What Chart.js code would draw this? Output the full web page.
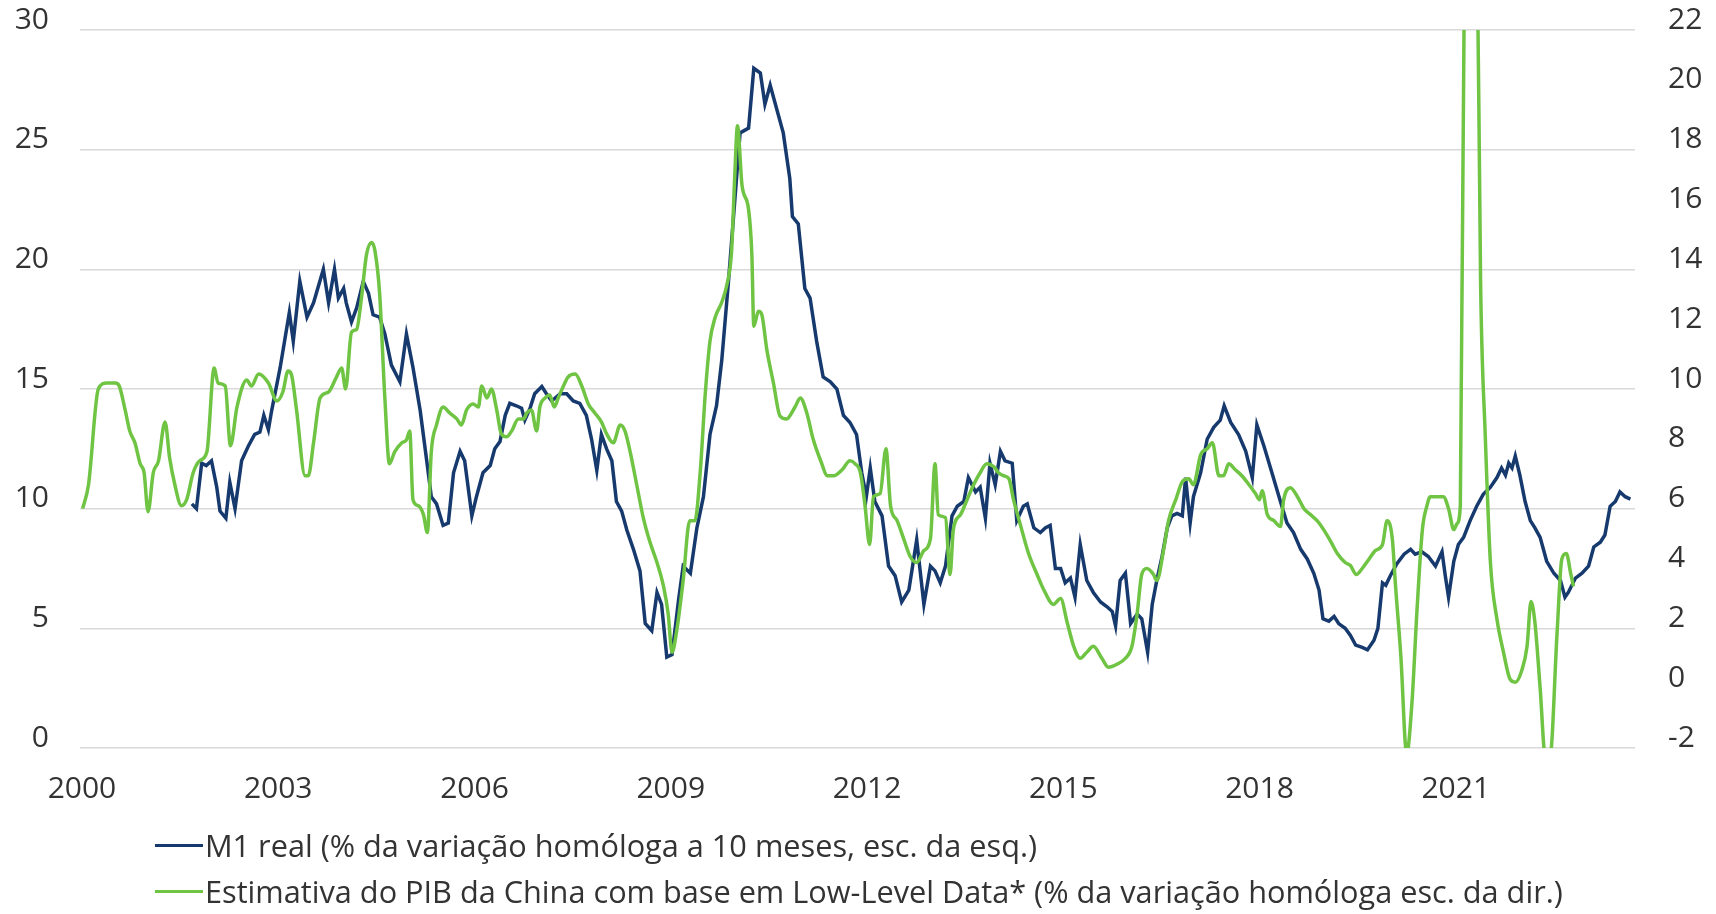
<!DOCTYPE html>
<html>
<head>
<meta charset="utf-8">
<script src="https://cdn.jsdelivr.net/npm/chart.js@4.4.1/dist/chart.umd.min.js"></script>
<style>
  body { margin: 0; background: #fff; }
  #wrap { position: relative; width: 1716px; height: 914px; }
  #legend {
    position: absolute; left: 155px; top: 822px;
    font-family: 'Open Sans', sans-serif; font-size: 30.7px; color: #333;
  }
  .row { display: flex; align-items: center; height: 46px; white-space: nowrap; }
  .swatch { width: 48px; height: 3px; margin-right: 2px; }
</style>
</head>
<body>
<div id="wrap">
  <canvas id="chart"></canvas>
  <div id="legend"></div>
</div>
<script>
// x labels every 3 years
const xTickYears = [2000, 2003, 2006, 2009, 2012, 2015, 2018, 2021];

// M1 real, left scale (decimal year / % yoy)
const m1Years = [
  2001.68, 2001.75, 2001.83, 2001.90, 2001.98, 2002.06, 2002.11, 2002.20, 2002.26, 2002.34,
  2002.44, 2002.54, 2002.64, 2002.72, 2002.78, 2002.85, 2002.90, 2003.03, 2003.17, 2003.23,
  2003.33, 2003.44, 2003.54, 2003.69, 2003.77, 2003.86, 2003.92, 2004.00, 2004.04, 2004.12,
  2004.20, 2004.30, 2004.38, 2004.45, 2004.55, 2004.63, 2004.73, 2004.86, 2004.96, 2005.06,
  2005.17, 2005.27, 2005.34, 2005.42, 2005.52, 2005.60, 2005.68, 2005.78, 2005.85, 2005.96,
  2006.03, 2006.13, 2006.24, 2006.31, 2006.39, 2006.47, 2006.54, 2006.64, 2006.72, 2006.77,
  2006.85, 2006.92, 2007.03, 2007.10, 2007.18, 2007.31, 2007.41, 2007.51, 2007.61, 2007.71,
  2007.79, 2007.87, 2007.94, 2008.02, 2008.10, 2008.17, 2008.25, 2008.33, 2008.43, 2008.53,
  2008.61, 2008.71, 2008.79, 2008.86, 2008.94, 2009.02, 2009.12, 2009.19, 2009.30, 2009.40,
  2009.50, 2009.60, 2009.70, 2009.78, 2009.88, 2009.96, 2010.06, 2010.19, 2010.27, 2010.37,
  2010.44, 2010.52, 2010.62, 2010.72, 2010.82, 2010.86, 2010.95, 2011.05, 2011.13, 2011.23,
  2011.33, 2011.44, 2011.54, 2011.64, 2011.74, 2011.84, 2011.92, 2011.99, 2012.05, 2012.12,
  2012.23, 2012.33, 2012.43, 2012.53, 2012.64, 2012.76, 2012.87, 2012.97, 2013.04, 2013.12,
  2013.20, 2013.30, 2013.38, 2013.48, 2013.55, 2013.66, 2013.73, 2013.81, 2013.88, 2013.96,
  2014.04, 2014.11, 2014.22, 2014.29, 2014.39, 2014.45, 2014.55, 2014.65, 2014.73, 2014.80,
  2014.88, 2014.96, 2015.03, 2015.11, 2015.18, 2015.26, 2015.36, 2015.46, 2015.57, 2015.67,
  2015.75, 2015.80, 2015.87, 2015.95, 2016.03, 2016.13, 2016.20, 2016.29, 2016.36, 2016.43,
  2016.51, 2016.59, 2016.66, 2016.74, 2016.82, 2016.87, 2016.94, 2016.99, 2017.10, 2017.20,
  2017.30, 2017.40, 2017.46, 2017.56, 2017.68, 2017.79, 2017.89, 2017.96, 2018.07, 2018.19,
  2018.32, 2018.42, 2018.52, 2018.63, 2018.73, 2018.83, 2018.91, 2018.97, 2019.06, 2019.14,
  2019.21, 2019.31, 2019.39, 2019.47, 2019.57, 2019.65, 2019.75, 2019.81, 2019.88, 2019.93,
  2020.00, 2020.10, 2020.21, 2020.31, 2020.38, 2020.48, 2020.58, 2020.69, 2020.79, 2020.84,
  2020.89, 2020.97, 2021.04, 2021.12, 2021.22, 2021.32, 2021.42, 2021.53, 2021.63, 2021.70,
  2021.76, 2021.81, 2021.86, 2021.91, 2021.98, 2022.06, 2022.14, 2022.21, 2022.29, 2022.39,
  2022.50, 2022.60, 2022.67, 2022.72, 2022.83, 2022.93, 2023.03, 2023.11, 2023.21, 2023.28,
  2023.36, 2023.44, 2023.51, 2023.59, 2023.67
];
const m1Values = [
  10.2, 10.0, 11.9, 11.8, 12.0, 10.9, 9.9, 9.6, 11.1, 10.0,
  12.0, 12.6, 13.1, 13.2, 13.9, 13.3, 14.1, 15.9, 18.2, 17.0,
  19.5, 18.0, 18.6, 20.0, 18.6, 20.0, 18.8, 19.2, 18.6, 17.8,
  18.4, 19.5, 19.0, 18.1, 18.0, 17.3, 16.0, 15.3, 17.3, 15.9,
  14.1, 12.0, 10.5, 10.2, 9.3, 9.4, 11.5, 12.4, 12.0, 9.7,
  10.5, 11.5, 11.8, 12.5, 12.8, 13.9, 14.4, 14.3, 14.2, 13.7,
  14.2, 14.8, 15.1, 14.8, 14.5, 14.8, 14.8, 14.5, 14.4, 13.9,
  12.9, 11.6, 13.1, 12.5, 12.0, 10.3, 9.9, 9.1, 8.3, 7.4,
  5.2, 4.9, 6.5, 6.0, 3.8, 3.9, 6.2, 7.6, 7.3, 9.2,
  10.5, 13.1, 14.3, 16.2, 19.4, 22.2, 25.7, 25.9, 28.4, 28.2,
  26.9, 27.7, 26.7, 25.7, 23.8, 22.2, 21.9, 19.2, 18.8, 17.0,
  15.5, 15.3, 15.0, 13.9, 13.6, 13.1, 11.5, 10.5, 11.7, 10.3,
  9.7, 7.6, 7.2, 6.1, 6.6, 8.7, 6.0, 7.6, 7.4, 6.9,
  7.6, 9.7, 10.1, 10.3, 11.3, 10.7, 10.9, 9.6, 11.9, 11.0,
  12.4, 12.0, 11.9, 9.5, 10.1, 10.2, 9.2, 9.0, 9.2, 9.3,
  7.5, 7.5, 6.9, 7.1, 6.3, 8.5, 7.0, 6.5, 6.1, 5.9,
  5.7, 5.1, 7.0, 7.3, 5.2, 5.6, 5.4, 4.0, 6.0, 7.0,
  8.0, 9.2, 9.7, 9.8, 9.7, 11.3, 9.4, 10.5, 11.5, 12.9,
  13.4, 13.7, 14.3, 13.6, 13.1, 12.4, 11.3, 13.5, 12.6, 11.5,
  10.3, 9.4, 9.0, 8.3, 7.9, 7.3, 6.6, 5.4, 5.3, 5.5,
  5.2, 5.0, 4.7, 4.3, 4.2, 4.1, 4.5, 5.0, 6.9, 6.8,
  7.2, 7.7, 8.1, 8.3, 8.1, 8.2, 8.0, 7.6, 8.2, 7.2,
  6.3, 7.8, 8.5, 8.8, 9.5, 10.1, 10.6, 10.9, 11.3, 11.7,
  11.4, 11.9, 11.7, 12.2, 11.4, 10.3, 9.5, 9.2, 8.8, 7.8,
  7.3, 7.0, 6.3, 6.5, 7.1, 7.3, 7.6, 8.4, 8.6, 8.9,
  10.1, 10.3, 10.7, 10.5, 10.4
];

// GDP estimate from low-level data, right scale (decimal year / % yoy)
const gdpYears = [
  2000.01, 2000.10, 2000.25, 2000.38, 2000.51, 2000.57, 2000.66, 2000.73, 2000.81, 2000.89,
  2000.95, 2001.01, 2001.09, 2001.17, 2001.27, 2001.34, 2001.42, 2001.52, 2001.60, 2001.70,
  2001.80, 2001.91, 2002.02, 2002.08, 2002.19, 2002.27, 2002.37, 2002.52, 2002.59, 2002.70,
  2002.85, 2002.98, 2003.07, 2003.15, 2003.20, 2003.28, 2003.41, 2003.46, 2003.54, 2003.64,
  2003.77, 2003.89, 2003.97, 2004.03, 2004.12, 2004.20, 2004.27, 2004.35, 2004.43, 2004.48,
  2004.55, 2004.63, 2004.70, 2004.78, 2004.89, 2004.96, 2005.01, 2005.06, 2005.14, 2005.22,
  2005.28, 2005.34, 2005.42, 2005.52, 2005.62, 2005.73, 2005.80, 2005.88, 2005.98, 2006.06,
  2006.11, 2006.19, 2006.26, 2006.34, 2006.41, 2006.49, 2006.57, 2006.67, 2006.75, 2006.80,
  2006.87, 2006.95, 2007.00, 2007.08, 2007.15, 2007.22, 2007.28, 2007.36, 2007.43, 2007.54,
  2007.64, 2007.74, 2007.84, 2007.94, 2008.02, 2008.12, 2008.23, 2008.30, 2008.38, 2008.48,
  2008.58, 2008.68, 2008.79, 2008.89, 2008.96, 2009.02, 2009.09, 2009.19, 2009.29, 2009.37,
  2009.45, 2009.53, 2009.60, 2009.68, 2009.78, 2009.86, 2009.93, 2009.98, 2010.02, 2010.09,
  2010.19, 2010.24, 2010.27, 2010.34, 2010.39, 2010.47, 2010.57, 2010.67, 2010.77, 2010.90,
  2010.98, 2011.08, 2011.18, 2011.31, 2011.39, 2011.49, 2011.62, 2011.74, 2011.82, 2011.90,
  2011.97, 2012.04, 2012.10, 2012.20, 2012.29, 2012.36, 2012.46, 2012.56, 2012.66, 2012.76,
  2012.87, 2012.97, 2013.04, 2013.09, 2013.20, 2013.27, 2013.32, 2013.43, 2013.53, 2013.63,
  2013.73, 2013.83, 2013.94, 2014.01, 2014.09, 2014.17, 2014.24, 2014.34, 2014.47, 2014.60,
  2014.70, 2014.85, 2014.96, 2015.06, 2015.16, 2015.26, 2015.36, 2015.46, 2015.59, 2015.69,
  2015.82, 2015.95, 2016.05, 2016.13, 2016.20, 2016.28, 2016.38, 2016.43, 2016.54, 2016.61,
  2016.72, 2016.82, 2016.92, 2016.99, 2017.10, 2017.20, 2017.28, 2017.38, 2017.45, 2017.53,
  2017.63, 2017.73, 2017.84, 2017.94, 2018.00, 2018.04, 2018.12, 2018.22, 2018.32, 2018.37,
  2018.47, 2018.58, 2018.68, 2018.78, 2018.88, 2018.98, 2019.09, 2019.19, 2019.31, 2019.39,
  2019.48, 2019.57, 2019.67, 2019.77, 2019.88, 2019.95, 2020.03, 2020.08, 2020.16, 2020.25,
  2020.33, 2020.41, 2020.49, 2020.56, 2020.61, 2020.71, 2020.81, 2020.89, 2020.97, 2021.02,
  2021.07, 2021.14, 2021.23, 2021.32, 2021.38, 2021.45, 2021.53, 2021.63, 2021.73, 2021.83,
  2021.91, 2022.01, 2022.09, 2022.15, 2022.21, 2022.29, 2022.37, 2022.44, 2022.55, 2022.62,
  2022.69, 2022.76, 2022.80
];
const gdpValues = [
  6.0, 6.8, 10.0, 10.2, 10.2, 10.1, 9.3, 8.6, 8.2, 7.5,
  7.2, 5.9, 7.2, 7.6, 8.9, 7.7, 6.8, 6.1, 6.3, 7.2,
  7.6, 7.9, 10.7, 10.2, 10.1, 8.1, 9.4, 10.3, 10.1, 10.5,
  10.2, 9.6, 9.9, 10.6, 10.5, 9.3, 7.1, 7.1, 8.2, 9.7,
  9.9, 10.4, 10.7, 10.0, 11.9, 12.0, 13.0, 14.5, 14.9, 14.6,
  13.2, 9.7, 7.5, 7.9, 8.2, 8.3, 8.6, 6.3, 6.1, 5.8,
  5.2, 7.9, 8.8, 9.4, 9.2, 9.0, 8.8, 9.3, 9.5, 9.4,
  10.1, 9.7, 10.0, 9.3, 8.5, 8.4, 8.6, 9.0, 9.0, 9.2,
  9.3, 8.6, 9.4, 9.7, 9.8, 9.4, 9.7, 10.1, 10.4, 10.5,
  10.1, 9.5, 9.2, 8.9, 8.5, 8.2, 8.8, 8.6, 7.9, 6.8,
  5.7, 4.9, 4.2, 3.4, 2.5, 1.2, 1.9, 3.6, 5.6, 5.6,
  7.2, 9.9, 11.6, 12.4, 12.9, 13.5, 14.6, 17.2, 18.8, 16.8,
  16.0, 14.5, 12.1, 12.6, 12.5, 11.3, 10.2, 9.1, 9.0, 9.4,
  9.7, 9.2, 8.3, 7.5, 7.1, 7.1, 7.3, 7.6, 7.5, 7.2,
  6.1, 4.8, 6.4, 6.5, 8.0, 6.1, 5.6, 5.0, 4.4, 4.2,
  4.6, 5.0, 7.5, 5.8, 5.7, 3.8, 5.3, 5.8, 6.3, 6.8,
  7.2, 7.5, 7.4, 7.2, 7.1, 7.0, 6.3, 5.5, 4.5, 3.8,
  3.3, 2.8, 3.0, 2.2, 1.4, 1.0, 1.2, 1.4, 1.0, 0.7,
  0.8, 1.0, 1.4, 2.5, 3.8, 4.0, 3.8, 3.6, 4.7, 5.6,
  6.3, 6.9, 7.0, 6.8, 7.8, 8.0, 8.2, 7.1, 7.1, 7.5,
  7.3, 7.1, 6.8, 6.5, 6.3, 6.6, 5.8, 5.6, 5.4, 6.3,
  6.7, 6.4, 6.0, 5.8, 5.6, 5.3, 4.9, 4.5, 4.2, 4.1,
  3.8, 4.0, 4.3, 4.6, 4.8, 5.6, 5.0, 3.4, 1.1, -2.2,
  -0.5, 2.7, 5.3, 6.1, 6.4, 6.4, 6.4, 6.0, 5.3, 5.5,
  6.1, 26.0, 28.0, 26.0, 13.5, 8.5, 4.2, 2.3, 1.2, 0.3,
  0.2, 0.6, 1.4, 2.9, 2.2, 0.0, -2.3, -2.3, 1.9, 4.3,
  4.5, 3.8, 3.4
];

const m1Label = 'M1 real (% da variação homóloga a 10 meses, esc. da esq.)';
const gdpLabel = 'Estimativa do PIB da China com base em Low-Level Data* (% da variação homóloga esc. da dir.)';
const m1Color = '#173a6e';
const gdpColor = '#6fc443';

const tickFont = { family: "'Open Sans', sans-serif", size: 30 };

// fixed side widths, no extra top/bottom padding from the value axes
function fixAxis(width) {
  return axis => {
    axis.width = width;
    axis.paddingTop = 0;
    axis.paddingBottom = 0;
  };
}

const ctx = document.getElementById('chart').getContext('2d');
const chart = new Chart(ctx, {
  type: 'line',
  data: {
    datasets: [
      {
        label: m1Label,
        data: m1Years.map((x, i) => ({ x: x, y: m1Values[i] })),
        yAxisID: 'y',
        borderColor: m1Color,
        borderWidth: 3.5,
        pointRadius: 0,
        tension: 0,
        order: 1
      },
      {
        label: gdpLabel,
        data: gdpYears.map((x, i) => ({ x: x, y: gdpValues[i] })),
        yAxisID: 'y1',
        borderColor: gdpColor,
        borderWidth: 3.5,
        pointRadius: 0,
        cubicInterpolationMode: 'monotone',
        order: 0
      }
    ]
  },
  options: {
    responsive: true,
    maintainAspectRatio: false,
    animation: false,
    layout: { padding: { left: 0, right: 0, top: 30, bottom: 84 } },
    plugins: {
      legend: { display: false },
      tooltip: { enabled: false }
    },
    scales: {
      x: {
        type: 'linear',
        min: 1999.97,
        max: 2023.74,
        grid: { display: false, drawTicks: false },
        border: { display: false },
        afterBuildTicks: axis => { axis.ticks = xTickYears.map(v => ({ value: v })); },
        ticks: {
          font: tickFont,
          color: '#333',
          padding: 23,
          maxRotation: 0,
          autoSkip: false,
          callback: v => String(v)
        }
      },
      y: {
        position: 'left',
        min: 0,
        max: 30,
        afterFit: fixAxis(80),
        grid: { color: '#d9d9d9', lineWidth: 1.5, drawTicks: false },
        border: { display: false },
        ticks: { stepSize: 5, font: tickFont, color: '#333', padding: 31, labelOffset: -10 }
      },
      y1: {
        position: 'right',
        min: -2,
        max: 22,
        afterFit: fixAxis(81),
        grid: { display: false, drawTicks: false },
        border: { display: false },
        ticks: { stepSize: 2, font: tickFont, color: '#333', padding: 33, labelOffset: -10 }
      }
    }
  }
});

// legend rows, left aligned under the plot
const legendBox = document.getElementById('legend');
chart.data.datasets.forEach(ds => {
  const row = document.createElement('div');
  row.className = 'row';
  const sw = document.createElement('span');
  sw.className = 'swatch';
  sw.style.background = ds.borderColor;
  const txt = document.createElement('span');
  txt.textContent = ds.label;
  row.appendChild(sw);
  row.appendChild(txt);
  legendBox.appendChild(row);
});
</script>
</body>
</html>
